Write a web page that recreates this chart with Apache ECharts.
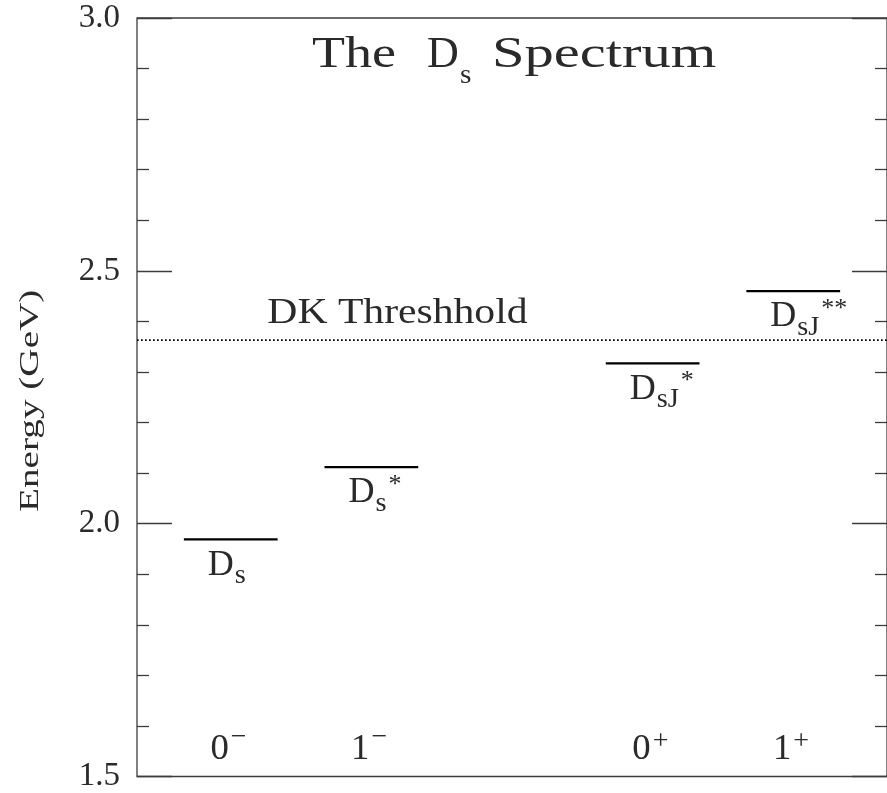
<!DOCTYPE html>
<html>
<head>
<meta charset="utf-8">
<title>The Ds Spectrum</title>
<script src="https://cdn.jsdelivr.net/npm/echarts@6/dist/echarts.min.js"></script>
<style>
  html, body { margin: 0; padding: 0; background: #fff; }
  #chart { width: 887px; height: 793px; }
</style>
</head>
<body>
<div id="chart"></div>
<script>
// Charm-strange meson levels (GeV), placed at horizontal slots grouped by J^P
const levelSlot = [2, 5, 11, 14];
const levelMass = [1.969, 2.112, 2.317, 2.460];
const levelMain = ['D', 'D', 'D', 'D'];
const levelSub = ['s', 's', 'sJ', 'sJ'];
const levelSup = ['', '*', '*', '**'];
const spinDigit = ['0', '1', '0', '1'];
const spinParity = ['\u2212', '\u2212', '+', '+'];
const dkThreshold = 2.363;
const energyTicks = [1.5, 2.0, 2.5, 3.0];

const X_MIN = 0, X_MAX = 16;          // horizontal extent of the frame
const LEVEL_HALF = 1;                 // half length of a level bar
const THRESH_LABEL_X = 2.78;          // where the threshold caption starts
const Y_MIN = energyTicks[0];
const Y_MAX = energyTicks[energyTicks.length - 1];

const FONT = '"Liberation Serif", "DejaVu Serif", serif';
const BASE_SHIFT = 0.1625;            // em distance from baseline to the 'bottom' anchor
const INK = '#2a2a2a';
const FRAME = '#3c3c3c';

const SUB_SIZE = 27, SUB_STRETCH = 1.05;

// width of a string in the label font
const measureCtx = document.createElement('canvas').getContext('2d');
function textWidth(str, size) {
  measureCtx.font = size + 'px ' + FONT;
  return measureCtx.measureText(str).width;
}

// text placed by its baseline; optional horizontal stretch and rotation
function glyph(str, x, baseline, size, align, sx, rot) {
  const el = {
    type: 'text',
    x: x, y: baseline,
    silent: true,
    style: {
      text: str, x: 0, y: BASE_SHIFT * size,
      font: size + 'px ' + FONT,
      fill: INK,
      align: align || 'left', textAlign: align || 'left',
      verticalAlign: 'bottom', textVerticalAlign: 'bottom'
    }
  };
  if (sx) el.scaleX = sx;
  if (rot) el.rotation = rot;
  return el;
}

const chart = echarts.init(document.getElementById('chart'), null, { renderer: 'canvas' });

const tickStyle = { color: FRAME, width: 1.3 };

const option = {
  animation: false,
  backgroundColor: '#fff',
  grid: {
    left: 137, top: 18, width: 760, height: 760,
    show: true, borderColor: FRAME, borderWidth: 1.3, backgroundColor: 'transparent'
  },
  xAxis: {
    type: 'value', min: X_MIN, max: X_MAX, show: false
  },
  yAxis: [
    {
      type: 'value', min: Y_MIN, max: Y_MAX, interval: 0.5, position: 'left',
      axisLine: { show: false },
      axisTick: { show: true, inside: true, length: 35, lineStyle: tickStyle },
      minorTick: { show: true, splitNumber: 5, length: 12, lineStyle: tickStyle },
      splitLine: { show: false },
      axisLabel: {
        show: true, margin: 17, fontFamily: FONT, fontSize: 33, color: INK,
        showMinLabel: true, showMaxLabel: true,
        formatter: v => v.toFixed(1)
      }
    },
    {
      type: 'value', min: Y_MIN, max: Y_MAX, interval: 0.5, position: 'right',
      axisLine: { show: false },
      axisTick: { show: true, inside: true, length: 35, lineStyle: tickStyle },
      minorTick: { show: true, splitNumber: 5, length: 12, lineStyle: tickStyle },
      splitLine: { show: false },
      axisLabel: { show: false }
    }
  ],
  graphic: [
    // chart title
    glyph('The', 312, 70, 45, 'left', 1.2),
    glyph('D', 427, 70, 44),
    glyph('s', 460, 85, 28, 'left', 1.05),
    glyph('Spectrum', 492, 70, 45, 'left', 1.3),
    // vertical axis title, reading upward
    glyph('Energy (GeV)', 40, 512, 28, 'left', 1.4, Math.PI / 2)
  ],
  series: [
    {
      // DK threshold: dotted line across the frame with its caption
      type: 'custom',
      name: 'threshold',
      silent: true,
      data: [[X_MIN, dkThreshold]],
      renderItem: function (params, api) {
        const e = api.value(1);
        const a = api.coord([X_MIN, e]);
        const b = api.coord([X_MAX, e]);
        const t = api.coord([THRESH_LABEL_X, e]);
        return {
          type: 'group',
          children: [
            {
              type: 'line',
              shape: { x1: a[0], y1: a[1], x2: b[0], y2: b[1] },
              style: { stroke: '#000', lineWidth: 1.8, lineDash: [1.7, 2.3] }
            },
            glyph('DK Threshhold', t[0], t[1] - 14, 35, 'left', 1.19)
          ]
        };
      }
    },
    {
      // meson levels with their names
      type: 'custom',
      name: 'levels',
      silent: true,
      data: levelSlot.map((s, i) => [s, levelMass[i]]),
      renderItem: function (params, api) {
        const i = params.dataIndex;
        const x = api.value(0), e = api.value(1);
        const l = api.coord([x - LEVEL_HALF, e]);
        const r = api.coord([x + LEVEL_HALF, e]);
        const c = api.coord([x, e]);
        const subX = c[0] + 4;
        const kids = [
          {
            type: 'line',
            shape: { x1: l[0], y1: l[1], x2: r[0], y2: r[1] },
            style: { stroke: '#000', lineWidth: 2.2 }
          },
          glyph(levelMain[i], c[0] - 23, c[1] + 38, 36),
          glyph(levelSub[i], subX, c[1] + 46, SUB_SIZE, 'left', SUB_STRETCH)
        ];
        if (levelSup[i]) {
          const supX = subX + textWidth(levelSub[i], SUB_SIZE) * SUB_STRETCH + 2;
          kids.push(glyph(levelSup[i], supX, c[1] + 27, 26));
        }
        return { type: 'group', children: kids };
      }
    },
    {
      // J^P labels along the bottom
      type: 'custom',
      name: 'spinParity',
      silent: true,
      data: levelSlot.map(s => [s, Y_MIN]),
      renderItem: function (params, api) {
        const i = params.dataIndex;
        const c = api.coord([api.value(0), api.value(1)]);
        const lift = spinParity[i] === '+' ? 25 : 29;
        return {
          type: 'group',
          children: [
            glyph(spinDigit[i], c[0] - 2, c[1] - 15, 35, 'right', 1.05),
            glyph(spinParity[i], c[0] + 8, c[1] - lift, 28, 'center')
          ]
        };
      }
    }
  ]
};

chart.setOption(option);
</script>
</body>
</html>
